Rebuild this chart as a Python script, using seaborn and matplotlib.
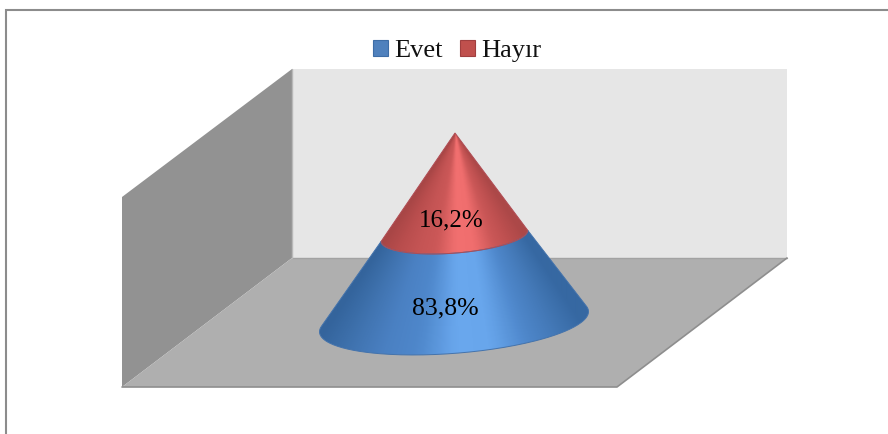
import numpy as np
import seaborn as sns
from matplotlib import pyplot as plt
from matplotlib.colors import LinearSegmentedColormap
from matplotlib.patches import Patch, PathPatch, Polygon
from matplotlib.path import Path

# stacked from the base up
labels = ["Evet", "Hayır"]
shares = [83.8, 16.2]
value_labels = ["83,8%", "16,2%"]

sns.set_style("white")
plt.rcParams['font.family'] = ['Liberation Serif', 'DejaVu Serif']

W, H = 888, 434
fig, ax = plt.subplots(figsize=(W / 100, H / 100), dpi=100)
ax.set_position([0, 0, 1, 1])
ax.set_xlim(0, W)
ax.set_ylim(H, 0)
ax.axis("off")

# chart frame, cut off on the right and at the bottom
ax.plot([5.5, 5.5, W], [H, 9.5, 9.5], color="#8c8c8c", lw=1.5, solid_joinstyle="miter")

# walls and floor
ax.add_patch(Polygon([(292, 69), (787, 69), (787, 258), (292, 258)], fc="#e6e6e6", ec="none"))
ax.add_patch(Polygon([(122, 197), (292, 69), (292, 258), (122, 387)], fc="#929292", ec="none"))
ax.add_patch(Polygon([(122, 387), (292, 258), (787, 258), (617, 387)], fc="#afafaf", ec="none"))
ax.plot([292, 787], [258, 258], color="#a2a2a2", lw=1)
ax.plot([292, 292], [69, 258], color="#b8b8b8", lw=1)
ax.plot([122, 617, 787], [387, 387, 258], color="#8e8e8e", lw=1.2)

# cone, heights follow volume so the split is the cube root of the top share
apex = np.array([455.0, 133.0])
base_c = np.array([454.0, 321.7])
base_a = 134.5
base_b = 31.7
slope = -0.075


def rim(scale, theta):
    x = base_a * np.cos(theta)
    y = slope * x + base_b * np.sin(theta)
    return apex + scale * (base_c - apex) + scale * np.column_stack([x, y])


def tangents():
    # where the sides of the cone touch the base ellipse, just behind the widest points
    th = np.linspace(-0.5, np.pi + 0.5, 2000)
    p = rim(1.0, th)
    t = (p[:, 0] - apex[0]) / (p[:, 1] - apex[1])
    return th[np.argmax(t)], th[np.argmin(t)]


def cone_part(s_top, s_bot):
    # s = fraction of the cone height from the apex
    if s_bot == 1.0:
        th_r, th_l = tangents()
        low = rim(s_bot, np.linspace(th_l, th_r, 160))
    else:
        low = rim(s_bot, np.linspace(np.pi, 0, 160))
    if s_top == 0:
        top = apex[None, :]
    else:
        top = rim(s_top, np.linspace(0, np.pi, 160))
    pts = np.vstack([low, top, low[:1]])
    return Path(pts)


def shaded(path, colors, edge):
    cmap = LinearSegmentedColormap.from_list("shade", sns.blend_palette(colors, 32))
    xx, yy = np.meshgrid(np.arange(300, 610), np.arange(125, 365))
    # shading bands run down from the apex
    t = (xx - apex[0]) / np.maximum(yy - apex[1], 1) * (202.0 / 134.5)
    im = ax.imshow(np.clip((t + 1) / 2, 0, 1), cmap=cmap, vmin=0, vmax=1, aspect="auto",
                   extent=(300, 610, 365, 125), interpolation="bilinear", zorder=3)
    patch = PathPatch(path, fc="none", ec="none", transform=ax.transData)
    ax.add_patch(patch)
    im.set_clip_path(patch)
    ax.add_patch(PathPatch(path, fc="none", ec=edge, lw=0.7, zorder=4))


blue_shade = ["#34649c", "#3f72ae", "#4a80c2", "#4f88cc", "#6aa8ee", "#68a6ec", "#4f88cc", "#4378b6", "#3668a2"]
red_shade = ["#a84646", "#b84d4d", "#c45454", "#cc5858", "#f27070", "#f06e6e", "#cc5858", "#bc4f4f", "#ac4848"]

split = (shares[1] / sum(shares)) ** (1 / 3)
shaded(cone_part(split, 1.0), blue_shade, "#4473ac")
shaded(cone_part(0, split), red_shade, "#b04c54")

# value labels
ax.text(445, 308, value_labels[0], ha="center", va="center", fontsize=18.5, color="black", zorder=5)
ax.text(451, 220, value_labels[1], ha="center", va="center", fontsize=18, color="black", zorder=5)

# legend
handles = [Patch(fc="#4f81bd", ec="#3d6da6", lw=0.8), Patch(fc="#c0504d", ec="#a03f3f", lw=0.8)]
ax.legend(handles, labels, ncol=2, loc="center", bbox_to_anchor=(457 / W, 1 - 51 / H),
          frameon=False, fontsize=19, handlelength=0.58, handleheight=0.58,
          handletextpad=0.22, columnspacing=0.65, borderpad=0, labelcolor="#111111")

ax.set_xlim(0, W)
ax.set_ylim(H, 0)
fig.savefig("out.png", dpi=100, facecolor="white")
